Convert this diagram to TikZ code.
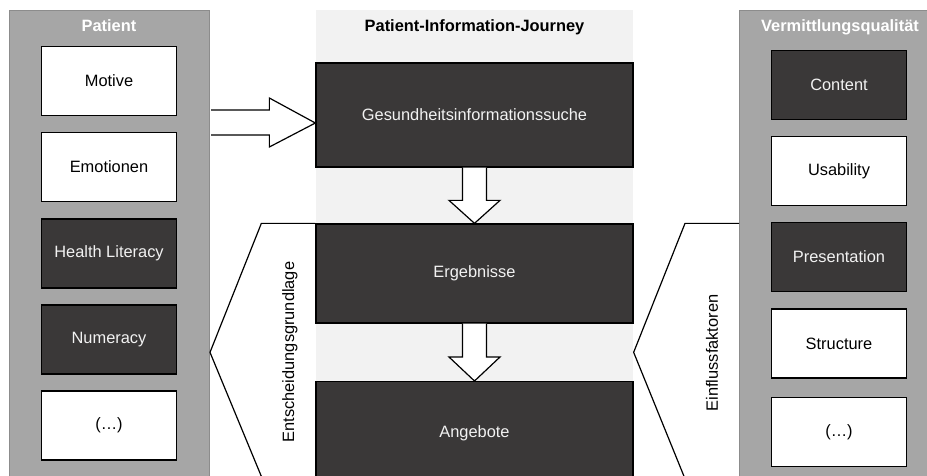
\documentclass[tikz,border=0pt]{standalone}
\usepackage{fontspec}
\setmainfont{Liberation Sans}
\usetikzlibrary{calc}
\definecolor{panelgray}{HTML}{A6A6A6}
\definecolor{panelborder}{HTML}{8C8C8C}
\definecolor{darkfill}{HTML}{3A3838}
\definecolor{lightbg}{HTML}{F2F2F2}
\begin{document}
\begin{tikzpicture}[x=1pt,y=-1pt,
  font=\fontsize{16.4}{19}\selectfont,
  panel/.style={draw=panelborder, line width=1pt, fill=panelgray, anchor=north west, inner sep=0pt},
  paneltitle/.style={text=white, font=\fontsize{16.4}{19}\selectfont\bfseries, inner sep=0pt},
  box/.style={draw=black, line width=1.3pt, minimum width=135pt, minimum height=69pt, inner sep=0pt},
  lightbox/.style={box, fill=white, text=black},
  darkbox/.style={box, fill=darkfill, text=lightbg},
  journeybox/.style={draw=black, line width=1.3pt, fill=darkfill, text=lightbg, minimum width=317pt, inner sep=0pt},
  blockarrow/.style={draw=black, line width=1.2pt, fill=white, line join=miter},
  chev/.style={draw=black, line width=1.2pt},
  sidelabel/.style={rotate=90, inner sep=0pt}]
\useasboundingbox (0,0) rectangle (927,475);
\clip (0,0) rectangle (927,475);

% panels and background
\node[panel, minimum width=200pt, minimum height=480pt] (patient) at (9,10) {};
\node[paneltitle] (ptitle) at (109,26) {Patient};
\node[fill=lightbg, anchor=north west, minimum width=317pt, minimum height=480pt, inner sep=0pt] (journeybg) at (316,10) {};
\node[font=\fontsize{16.4}{19}\selectfont\bfseries, inner sep=0pt] (jtitle) at (474.5,27) {Patient-Information-Journey};
\node[panel, minimum width=200pt, minimum height=480pt] (verm) at (739,10) {};
\node[paneltitle] (vtitle) at (840,27) {Vermittlungsqualität};

% left boxes
\node[lightbox] (motive) at (109,81) {Motive};
\node[lightbox] (emo) at (109,167) {Emotionen};
\node[darkbox] (hl) at (109,253.5) {Health Literacy};
\node[darkbox] (num) at (109,339.5) {Numeracy};
\node[lightbox] (pmore) at (109,425.5) {(…)};

% right boxes
\node[darkbox] (content) at (839,85) {Content};
\node[lightbox] (usab) at (839,171) {Usability};
\node[darkbox] (pres) at (839,257) {Presentation};
\node[lightbox] (struct) at (839,343.5) {Structure};
\node[lightbox] (vmore) at (839,432) {(…)};

% journey boxes
\node[journeybox, minimum height=104pt] (gesund) at (474.5,115) {Gesundheitsinformationssuche};
\node[journeybox, minimum height=99pt] (ergeb) at (474.5,273.5) {Ergebnisse};
\node[journeybox, minimum height=110pt, anchor=north] (angebote) at (474.5,381) {};
\node (angtext) at (474.5,433) {\textcolor{lightbg}{Angebote}};

% chevrons
\coordinate (mid) at ($(ergeb.south)!0.5!(angebote.north)$);
\draw[chev] (ergeb.north west) -- ++(-54,0) -- (patient.east |- mid) -- ++(53,128);
\draw[chev] (verm.west |- ergeb.north) -- ++(-54,0) -- (ergeb.east |- mid) -- ++(52,128);
\node[sidelabel] (entsch) at (290,352) {Entscheidungsgrundlage};
\node[sidelabel] (einfl) at (712,353) {Einflussfaktoren};

% horizontal block arrow
\coordinate (htip) at ($(gesund.west)+(0,8)$);
\coordinate (htail) at (patient.east |- htip);
\draw[blockarrow] ($(htail)+(1,-13)$) -- ($(htip)+(-46,-13)$) -- ($(htip)+(-46,-25)$) -- (htip)
  -- ($(htip)+(-46,24)$) -- ($(htip)+(-46,12)$) -- ($(htail)+(1,12)$);

% vertical block arrows
\draw[blockarrow] ($(gesund.south)+(-12,0)$) |- ($(ergeb.north)+(-25.5,-23)$) -- (ergeb.north)
  -- ($(ergeb.north)+(25.5,-23)$) -| ($(gesund.south)+(12,0)$);
\draw[blockarrow] ($(ergeb.south)+(-12,0)$) |- ($(angebote.north)+(-25.5,-24)$) -- (angebote.north)
  -- ($(angebote.north)+(25.5,-24)$) -| ($(ergeb.south)+(12,0)$);
\end{tikzpicture}
\end{document}
